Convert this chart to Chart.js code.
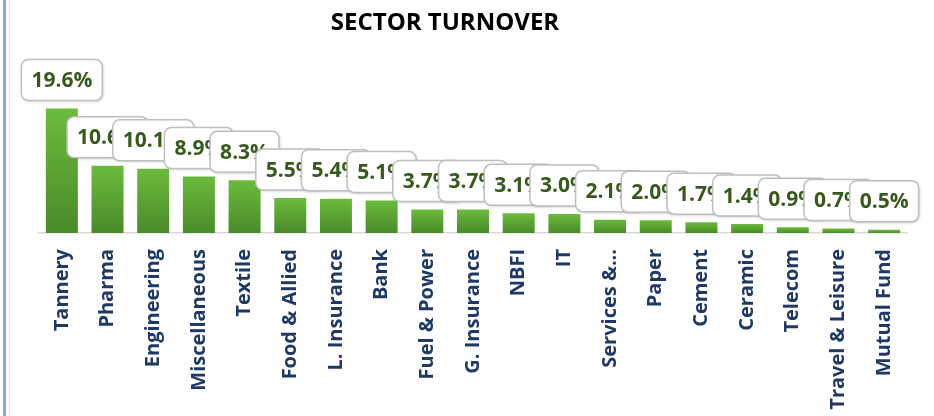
<!DOCTYPE html>
<html>
<head>
<meta charset="utf-8">
<script src="https://cdn.jsdelivr.net/npm/chart.js@4/dist/chart.umd.min.js"></script>
<style>
  html, body { margin: 0; padding: 0; background: #ffffff; }
  #wrap { position: relative; width: 934px; height: 416px; overflow: hidden; }
  #b1 { position: absolute; left: 3px; top: 0; width: 3px; height: 416px; background: #8eaadb; }
  #b2 { position: absolute; left: 9px; top: 0; width: 1px; height: 416px; background: #dde3ee; }
  canvas { position: absolute; left: 0; top: 0; }
</style>
</head>
<body>
<div id="wrap">
  <canvas id="c" width="934" height="416"></canvas>
  <div id="b1"></div>
  <div id="b2"></div>
</div>
<script>
const chartTitle = 'SECTOR TURNOVER';
const categories = ['Tannery', 'Pharma', 'Engineering', 'Miscellaneous', 'Textile', 'Food & Allied',
  'L. Insurance', 'Bank', 'Fuel & Power', 'G. Insurance', 'NBFI', 'IT', 'Services &...',
  'Paper', 'Cement', 'Ceramic', 'Telecom', 'Travel & Leisure', 'Mutual Fund'];
const turnover = [19.6, 10.6, 10.1, 8.9, 8.3, 5.5, 5.4, 5.1, 3.7, 3.7, 3.1, 3.0, 2.1, 2.0, 1.7, 1.4, 0.9, 0.7, 0.5];

const FONT = '"Open Sans", "DejaVu Sans", sans-serif';

const titlePlugin = {
  id: 'customTitle',
  afterDraw(chart) {
    const ctx = chart.ctx;
    ctx.save();
    ctx.font = 'bold 24px ' + FONT;
    ctx.fillStyle = '#000000';
    ctx.textAlign = 'center';
    ctx.textBaseline = 'alphabetic';
    ctx.fillText(chartTitle, 445, 30);
    ctx.restore();
  }
};

const labelPlugin = {
  id: 'boxLabels',
  afterDatasetsDraw(chart) {
    const ctx = chart.ctx;
    const meta = chart.getDatasetMeta(0);
    const data = chart.data.datasets[0].data;
    ctx.save();
    ctx.font = 'bold 21px ' + FONT;
    meta.data.forEach((bar, i) => {
      const txt = data[i].toFixed(1) + '%';
      const tw = ctx.measureText(txt).width;
      const w = tw + 20, h = 41;
      const x = bar.x - w / 2;
      const y = bar.y - 8 - h;
      ctx.save();
      ctx.shadowColor = 'rgba(0,0,0,0.22)';
      ctx.shadowBlur = 3;
      ctx.shadowOffsetX = 1;
      ctx.shadowOffsetY = 1;
      ctx.beginPath();
      ctx.roundRect(x, y, w, h, 7);
      ctx.fillStyle = '#ffffff';
      ctx.fill();
      ctx.restore();
      ctx.beginPath();
      ctx.roundRect(x, y, w, h, 7);
      ctx.lineWidth = 1.5;
      ctx.strokeStyle = '#bfbfbf';
      ctx.stroke();
      ctx.fillStyle = '#375a1c';
      ctx.textAlign = 'left';
      ctx.textBaseline = 'middle';
      ctx.fillText(txt, x + 10, y + h / 2 + 1);
    });
    ctx.restore();
  }
};

function barGradient(context) {
  const chart = context.chart;
  const area = chart.chartArea;
  if (!area || !chart.scales.y || context.parsed === undefined) return '#5ea433';
  const yTop = chart.scales.y.getPixelForValue(context.parsed.y);
  const yBot = chart.scales.y.getPixelForValue(0);
  if (!isFinite(yTop) || !isFinite(yBot) || yBot - yTop < 0.5) return '#6cbb3c';
  const g = chart.ctx.createLinearGradient(0, yTop, 0, yBot);
  g.addColorStop(0, '#6cbb3c');
  g.addColorStop(1, '#4a8a2a');
  return g;
}

new Chart(document.getElementById('c'), {
  type: 'bar',
  data: {
    labels: categories,
    datasets: [{
      data: turnover,
      backgroundColor: barGradient,
      borderWidth: 0,
      barPercentage: 0.7,
      categoryPercentage: 1.0
    }]
  },
  options: {
    responsive: false,
    animation: false,
    events: [],
    layout: { padding: { left: 39, right: 27, top: 106, bottom: 0 } },
    plugins: {
      legend: { display: false },
      title: { display: false },
      tooltip: { enabled: false }
    },
    scales: {
      x: {
        grid: { display: false, drawTicks: false },
        border: { display: true, color: '#d9d9d9', width: 1.5 },
        ticks: {
          autoSkip: false,
          maxRotation: 90,
          minRotation: 90,
          padding: 16,
          color: '#1f3864',
          font: { family: FONT, size: 20, weight: 'bold' }
        },
        afterFit(scale) { scale.height = 183; }
      },
      y: {
        display: false,
        min: 0,
        max: 20
      }
    }
  },
  plugins: [titlePlugin, labelPlugin]
});
</script>
</body>
</html>
